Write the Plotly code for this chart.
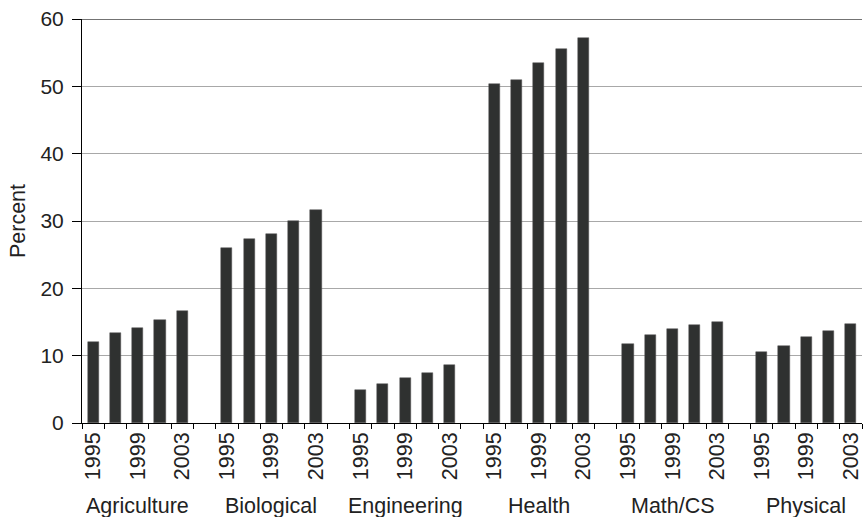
import plotly.graph_objects as go

groups = ["Agriculture", "Biological", "Engineering", "Health", "Math/CS", "Physical"]
years = [1995, 1997, 1999, 2001, 2003]
labeled_years = [1995, 1999, 2003]

agriculture = [12.1, 13.3, 14.1, 15.3, 16.7]
biological = [26.0, 27.4, 28.0, 30.0, 31.7]
engineering = [4.9, 5.8, 6.7, 7.5, 8.6]
health = [50.3, 51.0, 53.5, 55.5, 57.2]
math_cs = [11.8, 13.0, 13.9, 14.5, 15.0]
physical = [10.6, 11.5, 12.7, 13.6, 14.7]

series = [agriculture, biological, engineering, health, math_cs, physical]

slots_per_group = len(years) + 1
n_slots = len(groups) * slots_per_group - 1

xs, ys, hover = [], [], []
for g, (name, vals) in enumerate(zip(groups, series)):
    for i, (yr, v) in enumerate(zip(years, vals)):
        xs.append(g * slots_per_group + i)
        ys.append(v)
        hover.append(f"{name} {yr}")

year_tickvals, year_ticktext = [], []
for g in range(len(groups)):
    for i, yr in enumerate(years):
        if yr in labeled_years:
            year_tickvals.append(g * slots_per_group + i)
            year_ticktext.append(str(yr))

FONT = "Liberation Sans, Arial, sans-serif"
TXT = "#222222"

fig = go.Figure()
fig.add_trace(go.Bar(
    x=xs, y=ys, width=0.5, text=hover, hoverinfo="text+y", textposition="none",
    marker=dict(color="#2f3130", line=dict(color="#555555", width=0.5)),
    showlegend=False,
))
# invisible trace to activate secondary x axis for year labels
fig.add_trace(go.Scatter(x=[xs[0]], y=[0], xaxis="x2", mode="markers",
                         marker=dict(opacity=0), showlegend=False, hoverinfo="skip"))

xr = [-0.5, n_slots - 0.5]
fig.update_layout(
    width=865, height=517,
    margin=dict(l=82, r=3, t=19, b=94),
    paper_bgcolor="white", plot_bgcolor="white",
    font=dict(family=FONT, size=21, color=TXT),
    bargap=0,
    xaxis=dict(
        range=xr, tickmode="array",
        tickvals=[k - 0.5 for k in range(n_slots + 1)],
        showticklabels=False, ticks="outside", ticklen=5, tickcolor="#000",
        showline=True, linecolor="#000", linewidth=1,
        showgrid=False, zeroline=False, fixedrange=True, automargin=False,
    ),
    xaxis2=dict(
        range=xr, overlaying="x", anchor="y", side="bottom",
        tickmode="array", tickvals=year_tickvals, ticktext=year_ticktext,
        tickangle=-90, ticks="", showline=False, showgrid=False, zeroline=False,
        tickfont=dict(size=21.5, color=TXT), ticklabelstandoff=4, automargin=False,
    ),
    yaxis=dict(
        range=[0, 60], tickmode="array", tickvals=[0, 10, 20, 30, 40, 50, 60],
        ticks="outside", ticklen=9, tickcolor="#000",
        showline=True, linecolor="#000", linewidth=1,
        showgrid=True, gridcolor="#a8a8a8", gridwidth=1,
        zeroline=False, tickfont=dict(size=21, color=TXT),
        ticklabelstandoff=4, automargin=False,
    ),
    shapes=[dict(type="line", xref="paper", yref="y", x0=0, x1=1, y0=60, y1=60,
                 line=dict(color="#444444", width=1.5))],
)

annotations = []
for g, name in enumerate(groups):
    center = g * slots_per_group + (len(years) - 1) / 2
    annotations.append(dict(x=center, y=-0.205, xref="x", yref="paper",
                            text=name, showarrow=False, yanchor="middle",
                            xanchor="center", font=dict(size=21.5, color=TXT)))
annotations.append(dict(x=-0.082, y=0.5, xref="paper", yref="paper",
                        text="Percent", showarrow=False, textangle=-90,
                        xanchor="center", yanchor="middle",
                        font=dict(size=21.5, color=TXT)))
fig.update_layout(annotations=annotations)

fig.write_html("out.html", config={"displayModeBar": False},
               post_script="document.body.style.margin='0';")
